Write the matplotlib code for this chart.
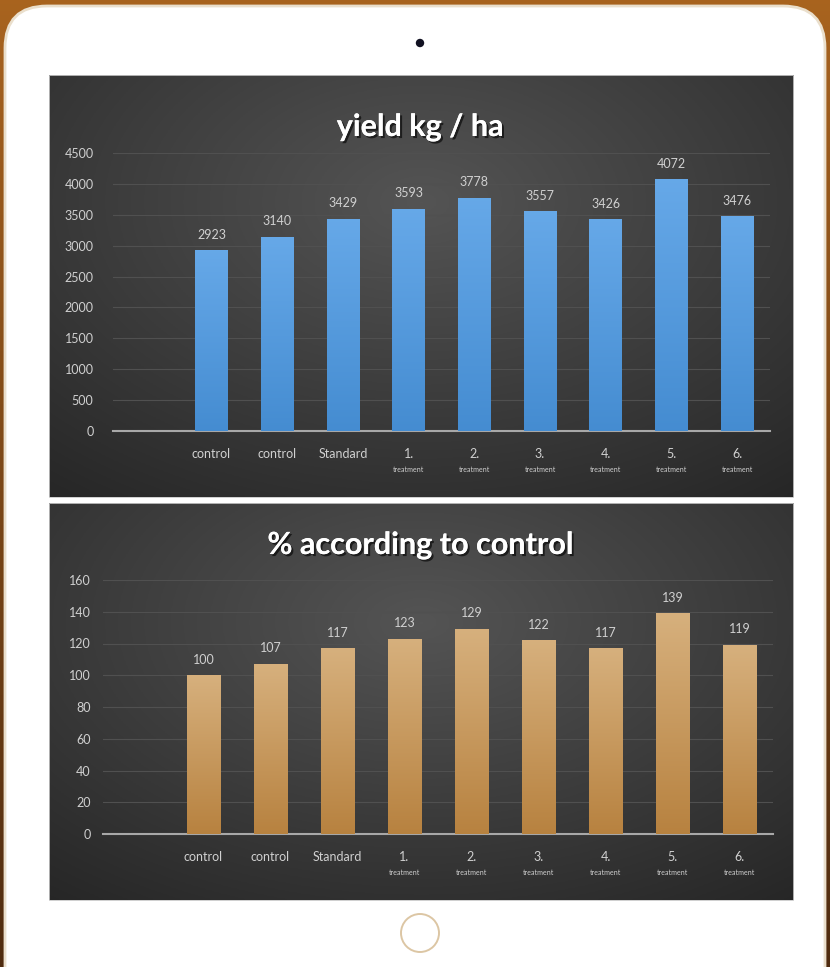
import matplotlib.pyplot as plt
import numpy as np
from matplotlib.patches import FancyBboxPatch, Circle, Rectangle
import matplotlib.patheffects as pe
import matplotlib.transforms as mtransforms

plt.rcParams['font.family'] = ['Lato', 'DejaVu Sans']

# data
labels_top = ['control', 'control', 'Standard', '1.', '2.', '3.', '4.', '5.', '6.']
sub_labels = ['', '', '', 'treatment', 'treatment', 'treatment', 'treatment', 'treatment', 'treatment']
yield_kg = [2923, 3140, 3429, 3593, 3778, 3557, 3426, 4072, 3476]
percent = [100, 107, 117, 123, 129, 122, 117, 139, 119]

W, H = 830, 967
fig = plt.figure(figsize=(W / 100, H / 100), dpi=100)

# pixel-space canvas for the tablet and panels
bg = fig.add_axes([0, 0, 1, 1])
bg.set_xlim(0, W)
bg.set_ylim(H, 0)
bg.axis('off')

# brown backdrop
grad = np.linspace(0, 1, 256).reshape(-1, 1)
brown = np.zeros((256, 1, 3))
brown[..., 0] = 0.66 - 0.35 * grad
brown[..., 1] = 0.39 - 0.22 * grad
brown[..., 2] = 0.12 - 0.06 * grad
bg.imshow(brown, extent=[0, W, H, 0], aspect='auto', zorder=0)

# tablet body
tablet = FancyBboxPatch((5, 6), W - 10, H + 40, boxstyle='round,pad=0,rounding_size=42',
                        facecolor='white', edgecolor='#eadfcc', linewidth=2, zorder=1)
bg.add_patch(tablet)
bg.add_patch(Circle((420, 43), 3.5, color='#111122', zorder=2))
bg.add_patch(Circle((420, 933), 19, facecolor='none', edgecolor='#dcc6a4', linewidth=1.4, zorder=2))


def panel(y0, y1):
    yy, xx = np.mgrid[0:1:200j, 0:1:300j]
    r = np.sqrt(((xx - 0.5) / 0.9) ** 2 + ((yy - 0.3) / 1.0) ** 2)
    v = np.clip(0.33 - 0.2 * r, 0.14, 0.33)
    img = np.dstack([v, v, v])
    bg.imshow(img, extent=[49, 793, y1, y0], aspect='auto', zorder=2)
    bg.add_patch(Rectangle((49, y0), 744, y1 - y0, facecolor='none',
                           edgecolor='#c8c8c8', linewidth=0.6, zorder=3))


panel(75, 497)
panel(503, 900)


def bar_chart(rect, values, ymax, step, top_col, bot_col, title, title_y, pad):
    ax = fig.add_axes(rect)
    ax.patch.set_alpha(0)
    x = np.arange(len(values))
    bars = ax.bar(x, values, width=0.5, color=bot_col, zorder=3)
    g = np.linspace(0, 1, 100)
    cmap_img = np.zeros((100, 1, 3))
    for k in range(3):
        cmap_img[:, 0, k] = top_col[k] * (1 - g) + bot_col[k] * g
    for b in bars:
        im = ax.imshow(cmap_img, extent=[b.get_x(), b.get_x() + b.get_width(), 0, b.get_height()],
                       aspect='auto', zorder=4)
        im.set_clip_path(b)
    for xi, v in zip(x, values):
        ax.annotate(str(v), (xi, v), xytext=(0, 7), textcoords='offset points',
                    ha='center', va='bottom', color='#d0d0d0', fontsize=9, zorder=5)
    ax.set_xlim(-1.5, len(values) - 0.5)
    ax.set_ylim(0, ymax)
    ax.set_yticks(np.arange(0, ymax + 1, step))
    ax.tick_params(axis='y', length=0, pad=pad, labelcolor='#d0d0d0', labelsize=9)
    ax.set_xticks(x)
    ax.set_xticklabels(labels_top)
    ax.tick_params(axis='x', length=0, pad=12, labelcolor='#d0d0d0', labelsize=9)
    trans = mtransforms.blended_transform_factory(ax.transData, ax.transAxes)
    for xi, s in zip(x, sub_labels):
        if s:
            ax.annotate(s, (xi, 0), xycoords=trans, xytext=(0, -28), textcoords='offset points',
                        ha='center', va='center', color='#d0d0d0', fontsize=5)
    ax.grid(axis='y', color='#505050', linewidth=0.8, zorder=0)
    for s in ['top', 'right', 'left']:
        ax.spines[s].set_visible(False)
    ax.spines['bottom'].set_color('#a8a8a8')
    ax.spines['bottom'].set_linewidth(1.5)
    fig.text(420 / W, 1 - title_y / H, title, ha='center', va='center', color='white',
             fontsize=22, fontweight='bold',
             path_effects=[pe.withSimplePatchShadow(offset=(1.5, -1.5), shadow_rgbFace='black', alpha=0.6),
                           pe.Normal()])
    return ax


bar_chart([113 / W, 1 - 431 / H, (770 - 113) / W, (431 - 153) / H], yield_kg, 4500, 500,
          (0.40, 0.66, 0.91), (0.27, 0.55, 0.82), 'yield kg / ha', 127, 14)
bar_chart([103 / W, 1 - 834 / H, (773 - 103) / W, (834 - 580) / H], percent, 160, 20,
          (0.84, 0.69, 0.49), (0.72, 0.51, 0.25), '% according to control', 545, 9)

fig.savefig('out.png', dpi=100)
